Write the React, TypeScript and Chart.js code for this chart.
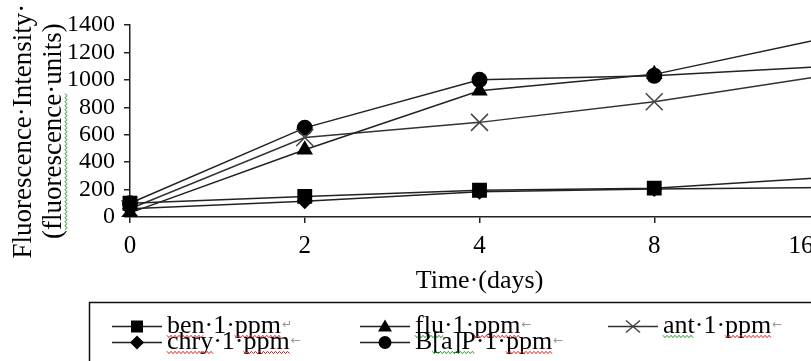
import React, { useEffect, useRef } from 'react';
import { Chart, registerables } from 'chart.js';

Chart.register(...registerables);

// ---- data ----
const days = ['0', '2', '4', '8', '16'];
const benValues = [100, 150, 195, 210, 290];
const fluValues = [30, 490, 920, 1040, 1310];
const antValues = [60, 580, 690, 840, 1035];
const chryValues = [60, 115, 185, 205, 215];
const bapValues = [100, 650, 1000, 1030, 1100];
const seriesNames = ['ben·1·ppm', 'flu·1·ppm', 'ant·1·ppm', 'chry·1·ppm', 'B[a]P·1·ppm'];
const yTitle = ['Fluorescence·Intensity·', '(fluorescence·units)'];
const xTitle = 'Time·(days)';
const yMin = 0;
const yMax = 1400;
const yStep = 200;

const SERIF = "'Liberation Serif', 'Times New Roman', serif";
const Y_TITLE_SIZE = 27;
// invisible trailing spaces nudge the rotated title lines down, like the original
const yTitlePadded = [yTitle[0] + '\u00a0\u00a0\u00a0', yTitle[1] + '\u00a0\u00a0\u00a0'];

// spell-check style underlines [start, end, color] per legend entry
const squiggles: Array<Array<[number, number, string]>> = [
  [[0, 3, '#e02020'], [6, 9, '#e02020']],
  [[0, 3, '#2a9a2a'], [6, 9, '#e02020']],
  [[0, 3, '#2a9a2a'], [6, 9, '#e02020']],
  [[0, 4, '#e02020'], [7, 10, '#e02020']],
  [[1, 5, '#2a9a2a'], [8, 11, '#e02020']],
];
const trailMarks = ['↵', '←', '←', '←', '←'];

function drawSquiggle(ctx: CanvasRenderingContext2D, x1: number, x2: number, y: number, color: string, vertical = false) {
  ctx.save();
  ctx.strokeStyle = color;
  ctx.lineWidth = 1;
  ctx.beginPath();
  const a = Math.min(x1, x2), b = Math.max(x1, x2);
  let up = true;
  for (let p = a; p <= b; p += 2) {
    const off = up ? -1.2 : 1.2;
    if (vertical) {
      if (p === a) ctx.moveTo(y + off, p); else ctx.lineTo(y + off, p);
    } else {
      if (p === a) ctx.moveTo(p, y + off); else ctx.lineTo(p, y + off);
    }
    up = !up;
  }
  ctx.stroke();
  ctx.restore();
}

function drawMarker(ctx: CanvasRenderingContext2D, style: string, x: number, y: number) {
  ctx.save();
  ctx.fillStyle = '#000';
  ctx.strokeStyle = '#444';
  ctx.lineWidth = 1.5;
  ctx.beginPath();
  if (style === 'rect') {
    ctx.fillRect(x - 6, y - 6, 12, 12);
  } else if (style === 'triangle') {
    ctx.moveTo(x, y - 7);
    ctx.lineTo(x + 7, y + 5);
    ctx.lineTo(x - 7, y + 5);
    ctx.closePath();
    ctx.fill();
  } else if (style === 'circle') {
    ctx.arc(x, y, 6.5, 0, Math.PI * 2);
    ctx.fill();
  } else if (style === 'rectRot') {
    ctx.moveTo(x, y - 7);
    ctx.lineTo(x + 7, y);
    ctx.lineTo(x, y + 7);
    ctx.lineTo(x - 7, y);
    ctx.closePath();
    ctx.fill();
  } else if (style === 'crossRot') {
    ctx.moveTo(x - 7, y - 6);
    ctx.lineTo(x + 7, y + 6);
    ctx.moveTo(x + 7, y - 6);
    ctx.lineTo(x - 7, y + 6);
    ctx.stroke();
  }
  ctx.restore();
}

const boxLegend = {
  id: 'boxLegend',
  beforeDraw(chart: any) {
    const xs = chart.scales.x;
    const items = xs.getLabelItems(chart.chartArea);
    const last = items[items.length - 1];
    if (last && !last._shifted) {
      last.options.translation = [last.options.translation[0] - 28, last.options.translation[1]];
      last._shifted = true;
    }
  },
  afterDraw(chart: any) {
    const ctx: CanvasRenderingContext2D = chart.ctx;
    const ca = chart.chartArea;
    ctx.save();
    // y-title spelling squiggle
    const ys = chart.scales.y;
    ctx.font = `${Y_TITLE_SIZE}px ${SERIF}`;
    const w2 = ctx.measureText(yTitlePadded[1]).width;
    const yc = (ys.top + ys.bottom) / 2;
    const startY = yc + w2 / 2;
    const s1 = startY - ctx.measureText('(').width;
    const s2 = startY - ctx.measureText('(fluorescence').width;
    drawSquiggle(ctx, s2, s1, 66, '#2a9a2a', true);

    // legend box
    const boxTop = Math.round(ca.bottom + 85) + 0.5;
    ctx.strokeStyle = '#111';
    ctx.lineWidth = 1.5;
    ctx.strokeRect(89.5, boxTop, chart.width, 200);

    chart.data.datasets.forEach((ds: any, i: number) => {
      const row = Math.floor(i / 3);
      const col = i % 3;
      const x0 = 112 + col * 248;
      const y = boxTop + 24 + row * 16;
      ctx.strokeStyle = ds.borderColor;
      ctx.lineWidth = 1.5;
      ctx.beginPath();
      ctx.moveTo(x0, y);
      ctx.lineTo(x0 + 50, y);
      ctx.stroke();
      drawMarker(ctx, ds.pointStyle, x0 + 25, y);
      const tx = x0 + 55;
      const by = y + 6;
      ctx.font = `26px ${SERIF}`;
      ctx.fillStyle = '#000';
      ctx.textBaseline = 'alphabetic';
      ctx.textAlign = 'left';
      const label: string = ds.label;
      ctx.fillText(label, tx, by);
      const full = ctx.measureText(label).width;
      for (const [a, b, c] of squiggles[i]) {
        const xa = tx + ctx.measureText(label.slice(0, a)).width;
        const xb = tx + ctx.measureText(label.slice(0, b)).width;
        drawSquiggle(ctx, xa, xb, by + 4, c);
      }
      ctx.font = `12px 'DejaVu Sans', sans-serif`;
      ctx.fillStyle = '#999';
      ctx.fillText(trailMarks[i], tx + full + 1, by - 5);
    });
    ctx.restore();
  },
};

export default function App() {
  const ref = useRef<HTMLCanvasElement | null>(null);

  useEffect(() => {
    if (!ref.current) return;
    const lineColor = '#222';
    const chart = new Chart(ref.current, {
      type: 'line',
      data: {
        labels: days,
        datasets: [
          { label: seriesNames[0], data: benValues, borderColor: lineColor, backgroundColor: '#000', borderWidth: 1.5, pointStyle: 'rect', pointRadius: 10.5, pointBackgroundColor: '#000', pointBorderColor: '#000', pointBorderWidth: 0 },
          { label: seriesNames[1], data: fluValues, borderColor: lineColor, backgroundColor: '#000', borderWidth: 1.5, pointStyle: 'triangle', pointRadius: 9.5, pointBackgroundColor: '#000', pointBorderColor: '#000', pointBorderWidth: 0 },
          { label: seriesNames[2], data: antValues, borderColor: '#333', backgroundColor: '#444', borderWidth: 1.5, pointStyle: 'crossRot', pointRadius: 12, pointBackgroundColor: '#444', pointBorderColor: '#444', pointBorderWidth: 1.5 },
          { label: seriesNames[3], data: chryValues, borderColor: lineColor, backgroundColor: '#000', borderWidth: 1.5, pointStyle: 'rectRot', pointRadius: 8, pointBackgroundColor: '#000', pointBorderColor: '#000', pointBorderWidth: 0 },
          { label: seriesNames[4], data: bapValues, borderColor: lineColor, backgroundColor: '#000', borderWidth: 1.5, pointStyle: 'circle', pointRadius: 8, pointBackgroundColor: '#000', pointBorderColor: '#000', pointBorderWidth: 0 },
        ],
      },
      options: {
        animation: false,
        responsive: true,
        maintainAspectRatio: false,
        events: [],
        layout: { padding: { left: 0, top: 25, right: 41, bottom: 83 } },
        plugins: { legend: { display: false }, tooltip: { enabled: false }, title: { display: false } },
        scales: {
          x: {
            type: 'category',
            offset: false,
            grid: { display: true, drawOnChartArea: false, drawTicks: true, tickLength: 6, color: '#222', lineWidth: 1.5 },
            border: { display: true, color: '#222', width: 1.5 },
            ticks: { font: { family: SERIF, size: 25 }, color: '#000', padding: 8, maxRotation: 0, autoSkip: false },
            title: { display: true, text: xTitle, font: { family: SERIF, size: 26 }, color: '#000', padding: 0 },
            afterFit: (s: any) => { s.height = 80; },
          },
          y: {
            min: yMin,
            max: yMax,
            grid: { display: true, drawOnChartArea: false, drawTicks: true, tickLength: 6, color: '#222', lineWidth: 1.5 },
            border: { display: true, color: '#222', width: 1.5 },
            ticks: { stepSize: yStep, autoSkip: false, maxTicksLimit: 20, font: { family: SERIF, size: 24, lineHeight: 0.9 }, color: '#000', padding: 9, callback: (v: any) => String(v) },
            title: { display: true, text: yTitlePadded, font: { family: SERIF, size: Y_TITLE_SIZE, lineHeight: 1.12 }, color: '#000', padding: { top: 9, bottom: 0 } },
            afterFit: (s: any) => { s.width = 130; },
          },
        },
      },
      plugins: [boxLegend],
    } as any);
    return () => chart.destroy();
  }, []);

  return (
    <div style={{ position: 'fixed', left: 0, top: 0, width: 811, height: 361, overflow: 'hidden', background: '#fff' }}>
      <div style={{ position: 'relative', width: 870, height: 380 }}>
        <canvas ref={ref} />
      </div>
    </div>
  );
}
